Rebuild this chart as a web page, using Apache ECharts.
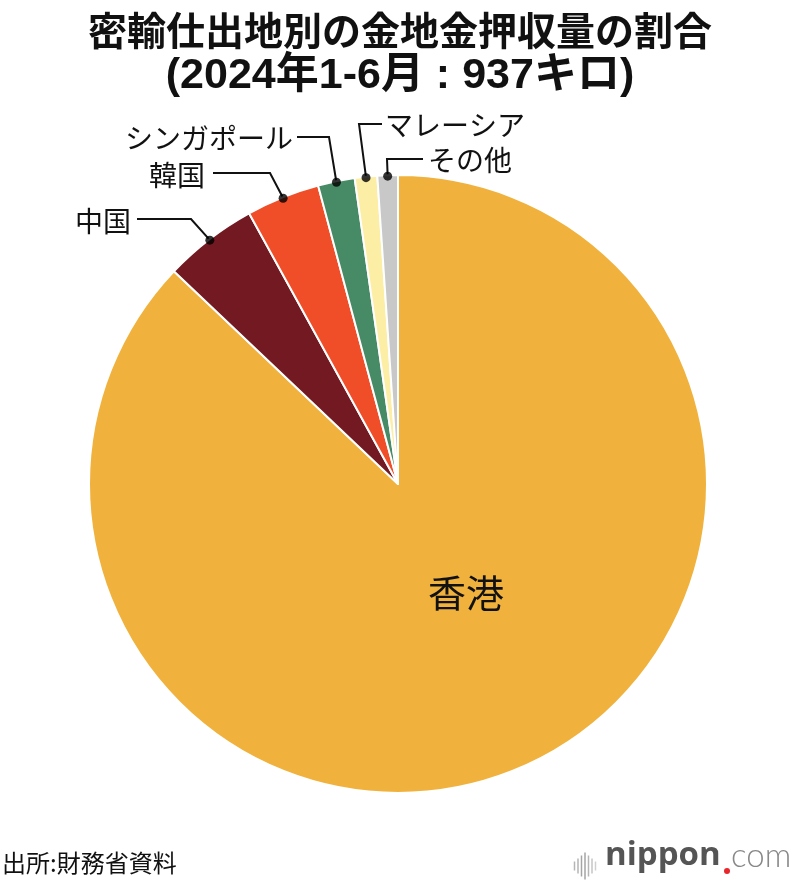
<!DOCTYPE html>
<html>
<head>
<meta charset="utf-8">
<script src="https://cdn.jsdelivr.net/npm/echarts@6/dist/echarts.min.js"></script>
<style>
html,body{margin:0;padding:0;background:#fff;}
#chart{width:800px;height:886px;}
</style>
</head>
<body>
<div id="chart"></div>
<script>
// ---- data ----
var titleLine1 = '密輸仕出地別の金地金押収量の割合';
var titleLine2 = '(2024年1-6月 : 937キロ)';
var categories = ['香港', '中国', '韓国', 'シンガポール', 'マレーシア', 'その他'];
var valuesKg = [816, 46, 36, 18, 11, 10];
var sourceText = '出所:財務省資料';

// ---- styling / layout (not data) ----
var colors = ['#F0B23C', '#721922', '#F04E29', '#478A66', '#FCEEA5', '#C8C8C8'];
var CX = 398, CY = 484, R = 309;
var FONT = '"Noto Sans CJK JP", "Noto Sans", sans-serif';
var TFONT = '"Liberation Sans", "Noto Sans CJK JP", sans-serif';
// callout label positions: bend point, line end, text anchor
var callouts = {
  1: { bx: 191, by: 219, ex: 137, ey: 219, tx: 131, ty: 221, align: 'right' },
  2: { bx: 270, by: 173, ex: 213, ey: 173, tx: 205, ty: 175, align: 'right' },
  3: { bx: 329, by: 137, ex: 297, ey: 137, tx: 293, ty: 138, align: 'right' },
  4: { bx: 359, by: 124, ex: 382, ey: 124, tx: 385, ty: 125, align: 'left' },
  5: { bx: 387, by: 159, ex: 423, ey: 159, tx: 428, ty: 160, align: 'left' }
};

var total = valuesKg.reduce(function (a, b) { return a + b; }, 0);
var pieData = categories.map(function (name, i) {
  var item = { name: name, value: valuesKg[i], itemStyle: { color: colors[i] } };
  if (i === 0) {
    item.label = { position: 'inside', fontSize: 38, color: '#111' };
    item.labelLine = { show: false };
  }
  return item;
});
// dot markers at the mid-angle of each small slice, placed via a polar axis
var dotData = [];
var cum = 0;
for (var i = 0; i < valuesKg.length; i++) {
  var mid = cum + valuesKg[i] / 2;
  cum += valuesKg[i];
  if (i > 0) dotData.push([1, mid]);
}

var chart = echarts.init(document.getElementById('chart'), null, { renderer: 'canvas' });
chart.setOption({
  animation: false,
  backgroundColor: '#fff',
  title: {
    text: '{a|' + titleLine1 + '}\n{b|' + titleLine2 + '}',
    left: 'center',
    top: 2,
    textStyle: {
      rich: {
        a: { fontFamily: FONT, fontSize: 39, fontWeight: 'bold', color: '#111', lineHeight: 46 },
        b: { fontFamily: TFONT, fontSize: 43, fontWeight: 'bold', color: '#111', lineHeight: 46 }
      }
    }
  },
  polar: { center: [CX, CY], radius: R - 1 },
  angleAxis: { type: 'value', min: 0, max: total, startAngle: 90, clockwise: true, show: false },
  radiusAxis: { type: 'value', min: 0, max: 1, show: false },
  series: [
    {
      type: 'pie',
      center: [CX, CY],
      radius: [0, R],
      startAngle: 90,
      clockwise: true,
      avoidLabelOverlap: false,
      silent: true,
      itemStyle: { borderColor: '#fff', borderWidth: 2 },
      label: {
        show: true,
        position: 'outside',
        formatter: '{b}',
        fontFamily: FONT,
        fontSize: 28,
        color: '#111'
      },
      labelLine: { show: true, smooth: false, lineStyle: { color: '#111', width: 2 } },
      labelLayout: function (p) {
        var i = p.dataIndex;
        if (i === 0) {
          return { x: 466, y: 593, align: 'center', verticalAlign: 'middle' };
        }
        var c = callouts[i];
        var out = { x: c.tx, y: c.ty, align: c.align, verticalAlign: 'middle' };
        if (p.labelLinePoints) {
          out.labelLinePoints = [p.labelLinePoints[0], [c.bx, c.by], [c.ex, c.ey]];
        }
        return out;
      },
      data: pieData
    },
    {
      type: 'scatter',
      coordinateSystem: 'polar',
      symbol: 'circle',
      symbolSize: 9,
      silent: true,
      itemStyle: { color: '#000' },
      z: 10,
      data: dotData
    }
  ],
  graphic: [
    {
      type: 'text', left: 2, top: 851,
      style: { text: sourceText, fontFamily: FONT, fontSize: 24, fill: '#111' }
    },
    // nippon.com logo
    { type: 'group', left: 572, top: 850, children: [
      { type: 'line', shape: { x1: 1, y1: 9, x2: 1, y2: 18 }, style: { stroke: '#b5b5b5', lineWidth: 1.5 } },
      { type: 'line', shape: { x1: 4.5, y1: 6, x2: 4.5, y2: 21 }, style: { stroke: '#b5b5b5', lineWidth: 1.5 } },
      { type: 'line', shape: { x1: 8, y1: 3, x2: 8, y2: 24 }, style: { stroke: '#a5a5a5', lineWidth: 1.5 } },
      { type: 'line', shape: { x1: 11.5, y1: 0, x2: 11.5, y2: 27 }, style: { stroke: '#a5a5a5', lineWidth: 1.5 } },
      { type: 'line', shape: { x1: 15, y1: 3, x2: 15, y2: 24 }, style: { stroke: '#b5b5b5', lineWidth: 1.5 } },
      { type: 'line', shape: { x1: 18.5, y1: 6, x2: 18.5, y2: 21 }, style: { stroke: '#c5c5c5', lineWidth: 1.5 } },
      { type: 'line', shape: { x1: 22, y1: 9, x2: 22, y2: 18 }, style: { stroke: '#d0d0d0', lineWidth: 1.5 } }
    ] },
    {
      type: 'text', left: 605, top: 839,
      style: { text: 'nippon', fontFamily: '"Open Sans", "Noto Sans", sans-serif', fontSize: 33, fontWeight: 'bold', fill: '#555' }
    },
    {
      type: 'circle', shape: { cx: 727, cy: 871, r: 3 }, style: { fill: '#e8262b' }
    },
    {
      type: 'text', left: 731, top: 840,
      style: { text: 'com', fontFamily: 'Lato, "Open Sans", sans-serif', fontSize: 33, fontWeight: 300, fill: '#888' }
    }
  ]
});
</script>
</body>
</html>
